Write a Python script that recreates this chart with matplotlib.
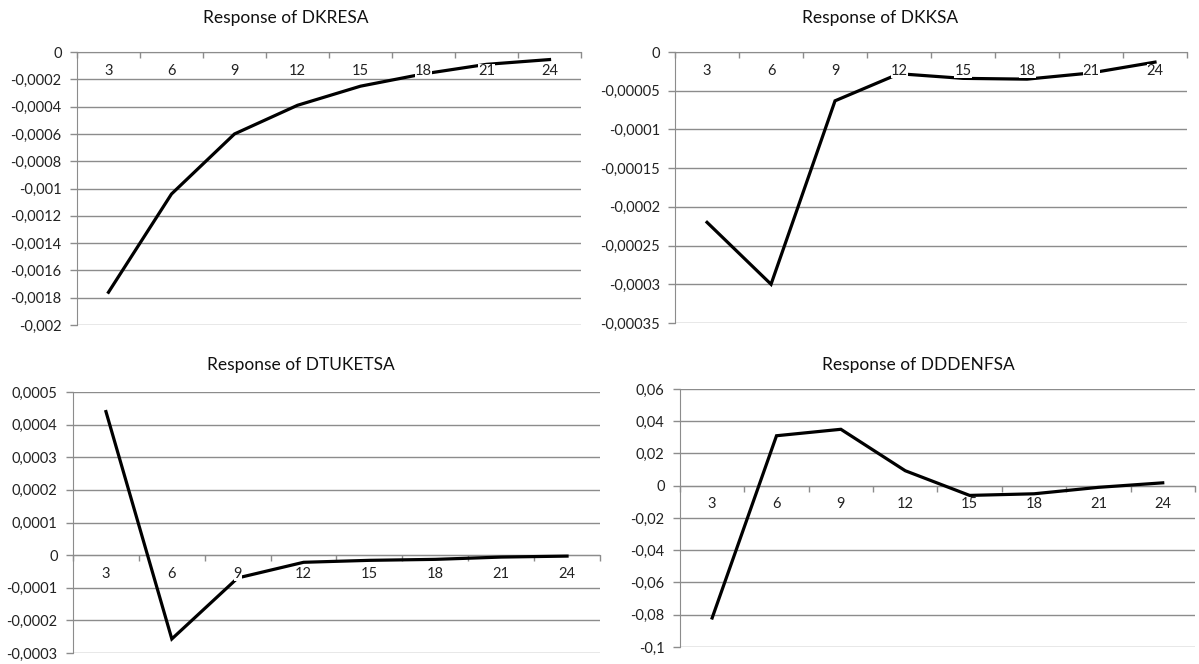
import matplotlib
matplotlib.use("Agg")
import matplotlib.pyplot as plt
import numpy as np

plt.rcParams['font.family'] = ['Lato', 'DejaVu Sans']

# horizon (months) and impulse responses
periods = ['3', '6', '9', '12', '15', '18', '21', '24']

resp_dkresa = [-0.00176, -0.00104, -0.00060, -0.00039, -0.00025, -0.00016, -0.00009, -0.000055]
resp_dkksa = [-0.00022, -0.00030, -0.000063, -0.000028, -0.000034, -0.000035, -0.000027, -0.000013]
resp_dtuketsa = [0.00044, -0.000257, -0.00007, -0.000022, -0.000016, -0.000013, -0.000006, -0.000003]
resp_dddenfsa = [-0.082, 0.031, 0.035, 0.0093, -0.006, -0.005, -0.001, 0.0018]

ticks_dkresa = [0, -0.0002, -0.0004, -0.0006, -0.0008, -0.001, -0.0012, -0.0014, -0.0016, -0.0018, -0.002]
ticks_dkksa = [0, -0.00005, -0.0001, -0.00015, -0.0002, -0.00025, -0.0003, -0.00035]
ticks_dtuketsa = [0.0005, 0.0004, 0.0003, 0.0002, 0.0001, 0, -0.0001, -0.0002, -0.0003]
ticks_dddenfsa = [0.06, 0.04, 0.02, 0, -0.02, -0.04, -0.06, -0.08, -0.1]

labels_dkresa = ['0', '-0,0002', '-0,0004', '-0,0006', '-0,0008', '-0,001', '-0,0012',
                 '-0,0014', '-0,0016', '-0,0018', '-0,002']
labels_dkksa = ['0', '-0,00005', '-0,0001', '-0,00015', '-0,0002', '-0,00025', '-0,0003', '-0,00035']
labels_dtuketsa = ['0,0005', '0,0004', '0,0003', '0,0002', '0,0001', '0', '-0,0001', '-0,0002', '-0,0003']
labels_dddenfsa = ['0,06', '0,04', '0,02', '0', '-0,02', '-0,04', '-0,06', '-0,08', '-0,1']

GRID = '#8c8c8c'
TXT = '#222222'

fig = plt.figure(figsize=(11.99, 6.64), dpi=100)


def panel(rect, title, title_xy, values, yticks, ylabels):
    ax = fig.add_axes(rect)
    x = np.arange(len(periods))
    ax.plot(x, values, color='black', lw=2.3, solid_joinstyle='miter', zorder=3)

    ax.set_xlim(-0.5, len(periods) - 0.5)
    ax.set_ylim(min(yticks), max(yticks))

    # value axis with gridlines
    ax.set_yticks(yticks)
    ax.set_yticklabels(ylabels, fontsize=10.5, color=TXT)
    ax.tick_params(axis='y', length=5, color=GRID, width=1, pad=6)
    ax.yaxis.grid(True, color=GRID, lw=1)
    ax.set_axisbelow(True)

    # category axis crossing at zero, ticks between categories
    ax.spines['bottom'].set_position(('data', 0))
    ax.spines['bottom'].set_color(GRID)
    ax.spines['left'].set_color(GRID)
    ax.spines['top'].set_visible(False)
    ax.spines['right'].set_visible(False)
    ax.set_xticks(x)
    ax.set_xticklabels([])
    ax.tick_params(axis='x', which='major', length=0)
    ax.set_xticks(np.arange(-0.5, len(periods)), minor=True)
    ax.tick_params(axis='x', which='minor', length=4, color=GRID, width=1, direction='out')

    # category labels sit on top of the line, with a white patch behind the digits
    for xi, lab in zip(x, periods):
        ax.annotate(lab, xy=(xi, 0), xytext=(0, -13.5), textcoords='offset points',
                    ha='center', va='center', fontsize=10.5, color=TXT, zorder=4,
                    bbox=dict(fc='white', ec='none', pad=0))

    fig.text(title_xy[0], title_xy[1], title, ha='center', va='center', fontsize=12.5, color='#111111')
    return ax


panel([0.0642, 0.5105, 0.4204, 0.4111], 'Response of DKRESA', (0.238, 0.973),
      resp_dkresa, ticks_dkresa, labels_dkresa)
panel([0.563, 0.5136, 0.427, 0.408], 'Response of DKKSA', (0.734, 0.973),
      resp_dkksa, ticks_dkksa, labels_dkksa)
panel([0.0609, 0.0166, 0.4395, 0.393], 'Response of DTUKETSA', (0.251, 0.450),
      resp_dtuketsa, ticks_dtuketsa, labels_dtuketsa)
panel([0.5671, 0.0256, 0.4295, 0.3886], 'Response of DDDENFSA', (0.766, 0.450),
      resp_dddenfsa, ticks_dddenfsa, labels_dddenfsa)

plt.savefig('out.png', dpi=100)
